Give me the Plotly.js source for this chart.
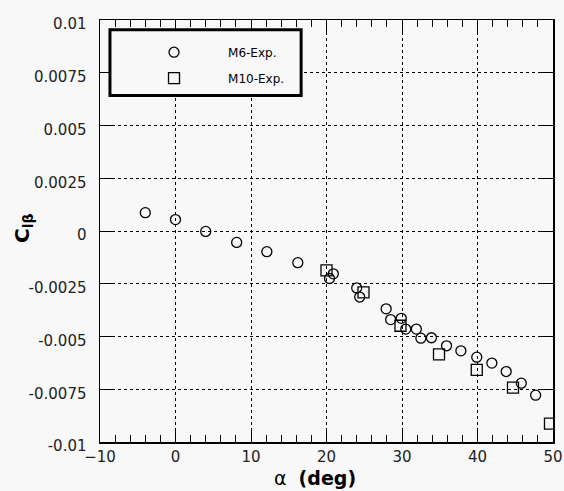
<!DOCTYPE html>
<html>
<head>
<meta charset="utf-8">
<script src="https://cdn.plot.ly/plotly-3.0.1.min.js"></script>
<style>
html,body{margin:0;padding:0;background:#f8f8f8;}
#chart{width:564px;height:491px;}
</style>
</head>
<body>
<div id="chart"></div>
<script>
// M6 experimental data
const m6Alpha = [-4.0, 0.0, 4.0, 8.1, 12.1, 16.2, 20.4, 20.9, 24.0, 24.4, 27.9, 28.5, 29.9, 30.5, 31.9, 32.5, 33.9, 35.9, 37.8, 39.9, 41.9, 43.8, 45.8, 47.7];
const m6Clb   = [0.00087, 0.00054, -0.00002, -0.00054, -0.00098, -0.0015, -0.00225, -0.00203, -0.0027, -0.00313, -0.00369, -0.0042, -0.00414, -0.00465, -0.00465, -0.00508, -0.00506, -0.00544, -0.00568, -0.00598, -0.00626, -0.00666, -0.00721, -0.00778];
// M10 experimental data
const m10Alpha = [20.0, 24.9, 29.8, 34.9, 39.9, 44.7, 49.6];
const m10Clb   = [-0.00187, -0.00291, -0.00449, -0.00585, -0.00658, -0.00742, -0.00913];
const xTicks = [-10, 0, 10, 20, 30, 40, 50];
const yTicks = [-0.01, -0.0075, -0.005, -0.0025, 0, 0.0025, 0.005, 0.0075, 0.01];
const yTickText = ['-0.01', '-0.0075', '-0.005', '-0.0025', '0', '0.0025', '0.005', '0.0075', '0.01'];

const traces = [
  {x: m6Alpha, y: m6Clb, name: 'M6-Exp.', type: 'scatter', mode: 'markers', legendgroup: 'a',
   marker: {symbol: 'circle-open', size: 10, color: '#000', line: {width: 1.3, color: '#000'}}},
  {x: m10Alpha, y: m10Clb, name: 'M10-Exp.', type: 'scatter', mode: 'markers', legendgroup: 'b',
   marker: {symbol: 'square-open', size: 11, color: '#000', line: {width: 1.3, color: '#000'}}}
];

const layout = {
  width: 564, height: 491,
  paper_bgcolor: '#f8f8f8', plot_bgcolor: '#f8f8f8',
  margin: {l: 100, r: 11, t: 20, b: 49},
  font: {family: 'DejaVu Sans, sans-serif', color: '#000', size: 15},
  showlegend: true,
  legend: {x: 0.0442, y: 0.958, xanchor: 'left', yanchor: 'top', bgcolor: 'rgba(0,0,0,0)',
           borderwidth: 0, font: {size: 12}, itemwidth: 98, traceorder: 'grouped', tracegroupgap: 7},
  xaxis: {range: [-10, 50], tickvals: xTicks, ticks: 'inside', ticklen: 12, tickwidth: 1, tickcolor: '#000',
          showline: true, linecolor: '#000', linewidth: 1.5, mirror: 'ticks', showgrid: true,
          gridcolor: '#000', griddash: 'dot', gridwidth: 1, zeroline: false,
          minor: {dtick: 2, ticks: 'inside', ticklen: 7, tickcolor: '#000', showgrid: false},
          tickfont: {size: 15, color: '#222'}},
  yaxis: {range: [-0.01, 0.01], tickvals: yTicks, ticktext: yTickText, ticks: 'inside', ticklen: 15, tickwidth: 1,
          tickcolor: '#000', showline: true, linecolor: '#000', linewidth: 1.5, mirror: 'ticks', showgrid: true,
          gridcolor: '#000', griddash: 'dot', gridwidth: 1, zeroline: false, ticklabelstandoff: 9,
          ticklabelshift: 4, tickfont: {size: 15, color: '#222'}},
  annotations: [
    {text: 'α&nbsp;&nbsp;<b>(deg)</b>', xref: 'paper', yref: 'paper', x: 0.4746, y: -0.086,
     xanchor: 'center', yanchor: 'middle', showarrow: false, font: {size: 19}},
    {text: '<b>C<sub>lβ</sub></b>', xref: 'paper', yref: 'paper', x: -0.17, y: 0.507, textangle: -90,
     xanchor: 'center', yanchor: 'middle', showarrow: false, font: {size: 20}}
  ],
  shapes: [
    {type: 'rect', xref: 'paper', yref: 'paper', x0: 0.022, x1: 0.444, y0: 0.821, y1: 0.977,
     fillcolor: '#f8f8f8', line: {color: '#000', width: 3}, layer: 'above'}
  ]
};

Plotly.newPlot('chart', traces, layout, {displayModeBar: false, staticPlot: true});
</script>
</body>
</html>
